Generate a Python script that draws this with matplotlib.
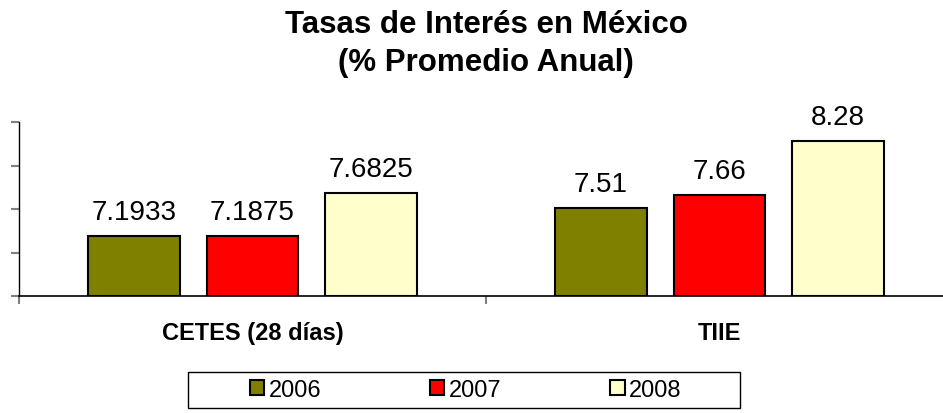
import matplotlib
matplotlib.use("Agg")
from matplotlib import pyplot as plt
from matplotlib.patches import Rectangle, Patch
import numpy as np

plt.rcParams['font.family'] = ['Liberation Sans', 'DejaVu Sans']

categories = ["CETES (28 días)", "TIIE"]
years = ["2006", "2007", "2008"]
values_2006 = [7.1933, 7.51]
values_2007 = [7.1875, 7.66]
values_2008 = [7.6825, 8.28]
labels_2006 = ["7.1933", "7.51"]
labels_2007 = ["7.1875", "7.66"]
labels_2008 = ["7.6825", "8.28"]
colors = ["#808000", "#FF0000", "#FFFFCC"]

W, H = 943, 414
fig = plt.figure(figsize=(W / 100, H / 100), dpi=100)
ax = fig.add_axes([19 / W, 1 - 297 / H, (953 - 19) / W, (297 - 123) / H])

x = np.arange(len(categories)) + 0.5
step = 0.254
width = 0.197
floor = 6.5
series = [values_2006, values_2007, values_2008]
texts = [labels_2006, labels_2007, labels_2008]
for i, (vals, labs, col) in enumerate(zip(series, texts, colors)):
    heights = [v - floor for v in vals]
    bars = ax.bar(x + (i - 1) * step, heights, width, bottom=floor, color=col,
                  edgecolor='black', linewidth=1.5, zorder=3)
    for b, v, lab in zip(bars, vals, labs):
        ax.annotate(lab, (b.get_x() + b.get_width() / 2, v),
                    xytext=(0, 8), textcoords='offset points',
                    ha='center', va='bottom', fontsize=20)

ax.set_xlim(0, 2)
ax.set_ylim(6.5, 8.5)

ax.set_yticks([6.5, 7.0, 7.5, 8.0, 8.5])
ax.set_yticklabels([])
ax.tick_params(axis='y', direction='out', length=6, width=1.5, color='#808080')
ax.set_xticks(x)
ax.set_xticklabels(categories, fontsize=17, fontweight='bold')
ax.tick_params(axis='x', which='major', length=0, pad=18)
ax.set_xticks([0, 1, 2], minor=True)
ax.tick_params(axis='x', which='minor', direction='out', length=6, width=1.5, color='#808080')

ax.spines['top'].set_visible(False)
ax.spines['right'].set_visible(False)
ax.spines['left'].set_linewidth(1)
ax.spines['bottom'].set_linewidth(1.2)

fig.text(486 / W, 1 - 25 / H, "Tasas de Interés en México", ha='center', va='center',
         fontsize=22.5, fontweight='bold')
fig.text(486 / W, 1 - 63 / H, "(% Promedio Anual)", ha='center', va='center',
         fontsize=22.5, fontweight='bold')

# legend box
fig.patches.append(Rectangle((188 / W, 1 - 409 / H), (740 - 188) / W, (409 - 373) / H,
                             transform=fig.transFigure, facecolor='white',
                             edgecolor='black', linewidth=1))
handles = [Patch(facecolor=c, edgecolor='black', linewidth=1.5) for c in colors]
leg = fig.legend(handles, years, loc='center', bbox_to_anchor=(466 / W, 1 - 391 / H),
                 ncol=3, frameon=False, fontsize=17, handlelength=0.6, handleheight=0.6,
                 handletextpad=0.2, columnspacing=4.6)

fig.savefig("out.png", dpi=100)
